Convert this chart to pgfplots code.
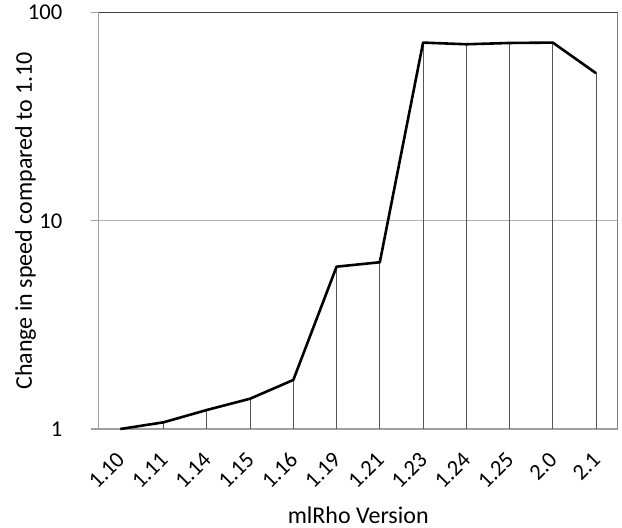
\documentclass[border=0pt]{standalone}
\usepackage{pgfplots}
\pgfplotsset{compat=1.18}
\usepackage{fontspec}
\setmainfont{Carlito}
\definecolor{axgray}{HTML}{A0A0A0}
\definecolor{gridgray}{HTML}{B4B4B4}
\definecolor{dropgray}{HTML}{555555}
\begin{document}
\begin{tikzpicture}
\begin{axis}[
  at={(0,0)}, anchor=south west,
  scale only axis,
  width=259.5pt, height=208.25pt,
  ymode=log,
  ymin=1, ymax=100,
  xmin=-0.5, xmax=11.5,
  xtick={0,...,11},
  xticklabels={1.10,1.11,1.14,1.15,1.16,1.19,1.21,1.23,1.24,1.25,2.0,2.1},
  extra x ticks={-0.5,0.5,1.5,2.5,3.5,4.5,5.5,6.5,7.5,8.5,9.5,10.5,11.5},
  extra x tick labels={},
  extra x tick style={major tick length=4pt, tick style={axgray, line width=0.6pt}},
  major x tick style={draw=none},
  ytick={1,10,100},
  yticklabels={1,10,100},
  minor ytick={},
  yminorticks=false,
  tick align=outside,
  major tick length=4pt,
  tick style={axgray, line width=0.6pt},
  ymajorgrids,
  grid style={gridgray, line width=0.5pt},
  axis line style={axgray, line width=0.6pt},
  axis x line*=bottom, axis y line*=left,
  every tick label/.append style={font=\fontsize{11.3}{13}\selectfont},
  /pgf/number format/assume math mode=true,
  xticklabel style={xshift=0.3pt, yshift=-9.5pt, rotate=45, anchor=east, inner sep=0pt},
  yticklabel style={anchor=east, inner sep=0pt, xshift=-14pt},
  xlabel={mlRho Version},
  ylabel={Change in speed compared to 1.10},
  xlabel style={font=\fontsize{12}{14}\selectfont, at={(axis description cs:0.5,0)}, anchor=center, yshift=-43.25pt},
  ylabel style={font=\fontsize{12}{14}\selectfont, at={(axis description cs:0,0.5)}, anchor=center, yshift=36.5pt},
  clip=false,
]
\addplot[ycomb, dropgray, line width=0.5pt, mark=none] coordinates {
(0,1.0) (1,1.077) (2,1.234) (3,1.398) (4,1.72) (5,6.02) (6,6.32) (7,71.7) (8,70.4) (9,71.4) (10,71.7) (11,51.1)
};
\addplot[black, line width=1.3pt, mark=none, line join=round] coordinates {
(0,1.0) (1,1.077) (2,1.234) (3,1.398) (4,1.72) (5,6.02) (6,6.32) (7,71.7) (8,70.4) (9,71.4) (10,71.7) (11,51.1)
};
\draw[black!75, line width=0.6pt] (rel axis cs:0,1) -- (rel axis cs:1,1);
\draw[axgray!80!black, line width=0.6pt] (rel axis cs:1,0) -- (rel axis cs:1,1);
\end{axis}
\pgfresetboundingbox
\path (-49.35pt,-49pt) rectangle (261.65pt,214.5pt);
\end{tikzpicture}
\end{document}
